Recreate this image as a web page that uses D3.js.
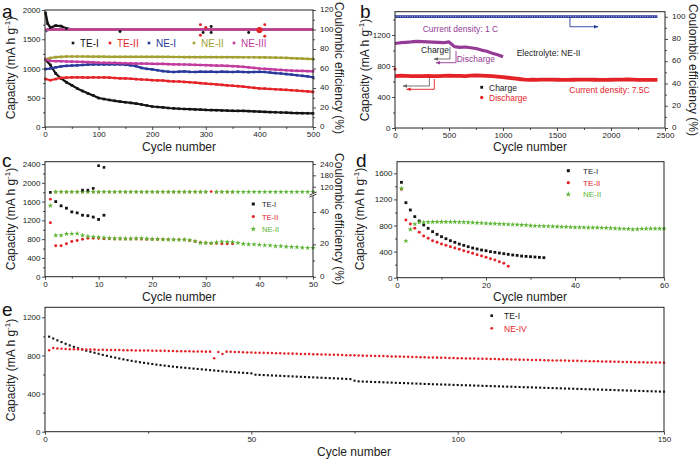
<!DOCTYPE html>
<html><head><meta charset="utf-8">
<script src="https://cdn.jsdelivr.net/npm/d3@7"></script>
<style>body{margin:0;background:#fff}svg{display:block}</style>
</head><body>
<script>
// ---------------- DATA ----------------
// Panel a (cycles sampled)
const aCycles = [1,10,20,30,40,50,60,70,80,90,100,110,120,130,140,150,160,170,180,190,200,210,220,230,240,250,260,270,280,290,300,310,320,330,340,350,360,370,380,390,400,410,420,430,440,450,460,470,480,490,500];
const aTE1 = [1150,1060,915,830,765,714,660,615,575,540,495,478,462,448,435,423,412,400,385,368,350,342,335,325,318,312,308,305,300,297,292,290,287,283,280,277,275,275,272,268,262,258,255,252,248,245,240,238,236,235,234];
const aTE2 = [820,800,820,840,845,848,850,848,845,850,846,848,845,838,832,830,825,818,812,808,800,798,795,785,780,778,770,765,758,750,743,735,728,720,712,705,698,690,680,670,660,655,650,645,640,635,628,622,615,608,600];
const aNE1 = [990,1000,1020,1035,1045,1050,1055,1060,1065,1068,1070,1068,1070,1072,1070,1065,1055,1040,1010,995,985,970,955,945,940,945,950,942,940,945,943,945,940,945,942,940,945,940,938,940,943,940,930,922,915,905,895,885,875,865,850];
const aNE2 = [1160,1180,1195,1200,1205,1205,1205,1205,1203,1203,1202,1202,1200,1200,1200,1200,1200,1200,1200,1200,1200,1198,1198,1198,1197,1197,1196,1196,1195,1195,1195,1195,1195,1194,1194,1193,1193,1192,1192,1192,1190,1190,1188,1186,1184,1180,1176,1172,1168,1164,1160];
const aNE3 = [1150,1130,1125,1125,1120,1118,1115,1112,1110,1105,1100,1098,1095,1095,1092,1090,1088,1085,1085,1082,1080,1078,1078,1075,1072,1070,1068,1065,1062,1060,1057,1055,1050,1048,1045,1040,1035,1028,1020,1010,1000,995,988,980,975,970,965,960,958,955,952];
const aCeCycles = [1,5,10,20,30,40,50,100,150,200,250,300,350,400,450,500];
const aCeTE1 = [117,106,102,104,103.5,101,100,100,100,100,100,100,100,100,100,100];
const aCeTE2 = [99,100,100,100,100,100,100,100,100,100,100,100,100,100,100,100];
const aCeNE1 = [98,99.5,100,100,100,100,100,100,100,100,100,100,100,100,100,100];
const aCeNE2 = [99,100,100,100,100,100,100,100,100,100,100,100,100,100,100,100];
const aCeNE3 = [100,100,100,100,100,100,100,100,100,100,100,100,100,100,100,100];
const aOutCycles = [140,290,290,295,300,310,310,380,400,410,410];
const aOutCE =     [98,94,105,97,102,97,103,97,99.5,93,105];
const aOutSeries = ['TE-I','TE-II','TE-II','TE-I','TE-II','TE-I','TE-I','TE-I','TE-II','TE-II','TE-II'];
const aNames = ['TE-I','TE-II','NE-I','NE-II','NE-III'];

// Panel b
const bCyc1C = [0,50,100,150,200,250,300,350,400,450,500,550,600,650,700,750,800,850,900,950,1000];
const bCap1C = [1090,1100,1105,1110,1118,1115,1112,1108,1105,1100,1110,1050,1040,1045,1035,1025,1005,990,965,945,920];
const bCyc75 = [0,50,100,150,200,250,300,350,400,450,500,550,600,650,700,750,800,850,900,950,1000,1050,1100,1150,1200,1250,1300,1350,1400,1450,1500,1550,1600,1650,1700,1750,1800,1850,1900,1950,2000,2050,2100,2150,2200,2250,2300,2350,2400,2430];
const bCap75 = [670,675,672,670,668,670,672,670,670,672,675,673,672,670,675,678,676,672,668,662,655,648,640,632,625,622,622,625,625,623,622,620,620,622,625,625,623,622,620,620,622,625,625,627,625,622,620,620,620,620];
const bCeCyc = [0,500,1000,1500,2000,2430];
const bCe = [100,100,100,100,100,100];

// Panel c (index = cycle-1)
const cTE1Cap = [null,1600,1510,1460,1380,1360,1310,1300,1270,1220,1310];
const cTE1CE  = [90,null,null,null,null,null,102,102,111,231,222];
const cTE2Cap = [1150,660,660,700,750,770,800,820,820,820,810,810,805,805,805,805,805,805,800,800,800,795,795,790,790,785,770,750,730,720,710,710,700,700,700];
const cTE2CE  = [48,92,92,92,92,92,92,92,92,92,92,92,92,92,92,92,92,92,92,92,92,92,92,92,92,92,92,92,92,92,94,92,92,92,92];
const cNE2Cap = [null,880,880,910,915,920,880,860,850,840,830,820,815,815,810,810,815,815,810,800,800,795,790,790,785,790,780,760,720,720,715,730,745,740,735,720,700,690,690,680,670,665,650,650,640,635,630,620,615,615];
const cNE2CE  = [44,92,92,92,92,92,92,92,92,92,92,92,92,92,92,92,92,92,92,92,92,92,92,92,92,92,92,92,92,92,null,92,92,92,92,92,92,92,92,92,92,92,92,92,92,92,92,92,92,92];

// Panel d (index = cycle-1)
const dTE1 = [1462,1150,1038,936,869,808,757,706,665,629,598,567,542,516,496,475,455,440,424,414,399,389,378,368,358,348,342,332,327,322,317,312,307];
const dTE2 = [1355,884,823,757,695,639,603,567,542,516,496,475,455,435,414,394,373,353,332,312,291,271,245,220,174];
const dNE2 = [1370,562,741,823,849,849,852,855,855,855,855,855,855,852,850,848,845,840,838,833,830,828,825,822,818,815,812,808,805,797,795,792,790,788,785,782,780,778,776,772,770,770,768,768,767,765,762,760,755,752,750,748,741,745,750,752,752,752,752,752];

// Panel e (index = cycle-1)
const eTE1 = [997,978,958,940,922,905,890,876,862,850,839,828,817,806,796,786,777,768,759,751,743,736,729,722,716,710,704,698,693,688,683,678,674,670,666,662,658,654,650,646,642,638,634,630,627,624,621,618,615,612,598,596,594,592,590,588,586,584,582,580,578,576,574,572,570,568,566,564,562,560,558,556,554,552,535,528,526,525,523,521,520,518,516,515,513,511,510,508,506,505,503,501,500,498,497,495,494,493,491,490,488,487,486,484,483,481,480,479,477,476,474,473,472,470,469,467,466,465,463,462,460,459,458,456,455,453,452,451,449,448,446,445,444,442,441,439,438,437,435,434,432,431,430,428,427,425,424,423,421,420];
const eNE4 = [855,878,872,870,868,866,866,865,864,863,862,861,858,859,858,857,856,856,855,854,854,853,852,852,851,850,849,848,848,847,846,845,845,844,843,842,842,841,840,840,770,835,815,840,838,836,835,833,832,830,829,828,827,826,825,823,822,821,820,819,818,816,815,814,813,812,810,809,808,807,806,804,803,802,801,800,798,797,796,795,794,793,791,790,789,788,787,785,784,783,782,781,779,778,777,776,775,773,772,771,770,769,768,767,766,765,764,763,762,761,760,759,758,757,756,755,754,753,752,751,750,749,748,747,746,746,745,744,743,742,741,740,739,738,737,736,735,734,733,732,731,730,729,729,728,727,726,725,725,724];

// ---------------- STYLE ----------------
const FONT = '"Liberation Sans", Arial, Helvetica, sans-serif';
const C = {black:'#141414', red:'#e42328', blue:'#2a3a9c', olive:'#a3a132', mag:'#c23c9e', green:'#5cb532', purple:'#953a95', gray:'#666'};
const aColors = {'TE-I':C.black,'TE-II':C.red,'NE-I':C.blue,'NE-II':C.olive,'NE-III':C.mag};

const svg = d3.select('body').append('svg').attr('width',700).attr('height',463);
svg.append('rect').attr('width',700).attr('height',463).attr('fill','#fff');

function axis(gen, tx, ty, values, size, fmt, pad) {
  const g = svg.append('g').attr('transform', `translate(${tx},${ty})`)
    .call(gen.tickValues(values).tickSize(size).tickSizeOuter(0).tickPadding(pad || 1.5).tickFormat(fmt === undefined ? d3.format('d') : fmt));
  g.select('.domain').remove();
  g.selectAll('text').attr('font-size', 8).attr('font-family', FONT).attr('fill', '#222');
  g.selectAll('line').attr('stroke', '#222').attr('stroke-width', 0.8);
  return g;
}
function frame(x, y) {
  svg.append('rect').attr('x', x.range()[0]).attr('y', y.range()[1])
    .attr('width', x.range()[1] - x.range()[0]).attr('height', y.range()[0] - y.range()[1])
    .attr('fill', 'none').attr('stroke', '#222').attr('stroke-width', 1);
}
function text(x, y, s, o = {}) {
  return svg.append('text').attr('x', x).attr('y', y).text(s)
    .attr('font-family', FONT).attr('font-size', o.size || 9).attr('fill', o.color || '#222')
    .attr('text-anchor', o.anchor || 'start');
}
function capLabel(cx, cy) {
  const t = svg.append('text').attr('transform', `translate(${cx},${cy}) rotate(-90)`)
    .attr('text-anchor', 'middle').attr('font-family', FONT).attr('font-size', 12).attr('fill', '#222');
  t.append('tspan').text('Capacity (mA h g');
  t.append('tspan').attr('font-size', 8).attr('dy', -5).text('-1');
  t.append('tspan').attr('dy', 5).text(')');
}
function ceLabel(cx, cy) {
  svg.append('text').attr('transform', `translate(${cx},${cy}) rotate(90)`)
    .attr('text-anchor', 'middle').attr('font-family', FONT).attr('font-size', 12).attr('fill', '#222')
    .text('Coulombic efficiency (%)');
}
function xLabel(cx, y) { text(cx, y, 'Cycle number', {size: 12, anchor: 'middle'}); }
function letter(x, y, s) { text(x, y, s, {size: 19, color: '#111'}); }

function sym(type, size) { return d3.symbol().type(type).size(size); }
function drawPts(pts, x, y, color, type, size) {
  svg.append('g').selectAll('path').data(pts.filter(p => p[1] != null)).join('path')
    .attr('transform', p => `translate(${x(p[0])},${y(p[1])})`)
    .attr('d', sym(type, size)()).attr('fill', color);
}
function drawBand(pts, x, y, color, w) {
  svg.append('path').datum(pts).attr('fill', 'none').attr('stroke', color).attr('stroke-width', w)
    .attr('stroke-linejoin', 'round')
    .attr('d', d3.line().x(p => x(p[0])).y(p => y(p[1])));
}
const zip = (xs, ys) => xs.map((v, i) => [v, ys[i]]);
const idx = ys => ys.map((v, i) => [i + 1, v]);

// ================= PANEL A =================
{
  const x = d3.scaleLinear().domain([0, 500]).range([45, 313]);
  const y = d3.scaleLinear().domain([0, 2000]).range([127, 10]);
  const y2 = d3.scaleLinear().domain([0, 120]).range([127, 10]);
  const caps = [aTE1, aTE2, aNE1, aNE2, aNE3];
  caps.forEach((arr, k) => {
    const col = aColors[aNames[k]];
    drawBand(zip(aCycles, arr), x, y, col, 2.2);
    drawPts(zip(aCycles, arr), x, y, col, d3.symbolSquare, 7);
  });
  const ces = [aCeTE1, aCeTE2, aCeNE1, aCeNE2, aCeNE3];
  ces.forEach((arr, k) => drawBand(zip(aCeCycles, arr), x, y2, aColors[aNames[k]], 2.4));
  drawPts(zip(aCeCycles.slice(0, 6), aCeTE1.slice(0, 6)), x, y2, C.black, d3.symbolSquare, 7);
  aOutCycles.forEach((c, i) => drawPts([[c, aOutCE[i]]], x, y2, aColors[aOutSeries[i]], d3.symbolCircle, i === 8 ? 30 : 7));
  frame(x, y);
  axis(d3.axisBottom(x), 0, 127, [0, 100, 200, 300, 400, 500], 3);
  axis(d3.axisBottom(x), 0, 127, [50, 150, 250, 350, 450], 2, '');
  axis(d3.axisLeft(y), 45, 0, [0, 500, 1000, 1500, 2000], 3);
  axis(d3.axisLeft(y), 45, 0, [250, 750, 1250, 1750], 2, '');
  axis(d3.axisRight(y2), 313, 0, [0, 20, 40, 60, 80, 100, 120], 3, undefined, 4).selectAll('text').attr('dy', '0.2em');
  axis(d3.axisRight(y2), 313, 0, [10, 30, 50, 70, 90, 110], 2, '');
  // legend
  const lx = [73, 110, 149, 194, 234];
  aNames.forEach((n, k) => {
    svg.append('rect').attr('x', lx[k] - 1.3).attr('y', 41.7).attr('width', 2.6).attr('height', 2.6).attr('fill', aColors[n]);
    text(lx[k] + 7, 46.5, n, {size: 10, color: aColors[n]});
  });
  letter(2, 18, 'a');
  capLabel(15, 68);
  ceLabel(335, 68);
  xLabel(179, 151);
}

// ================= PANEL B =================
{
  const x = d3.scaleLinear().domain([0, 2500]).range([395, 665]);
  const y = d3.scaleLinear().domain([0, 1500]).range([128, 11.7]);
  const y2 = d3.scaleLinear().domain([0, 104.5]).range([128, 11.7]);
  drawBand(zip(bCeCyc, bCe), x, y2, C.blue, 2.8);
  svg.append('path').datum(zip(bCeCyc, bCe)).attr('fill', 'none').attr('stroke', '#c8cbe8')
    .attr('stroke-width', 0.8).attr('stroke-dasharray', '1.2 1.2')
    .attr('d', d3.line().x(p => x(p[0])).y(p => y2(p[1])));
  drawBand(zip(bCyc1C, bCap1C), x, y, C.purple, 3.2);
  drawBand(zip(bCyc75, bCap75), x, y, C.red, 3.8);
  drawPts([[0, 760]], x, y, C.red, d3.symbolCircle, 8);
  frame(x, y);
  axis(d3.axisBottom(x), 0, 128, [0, 500, 1000, 1500, 2000, 2500], 3);
  axis(d3.axisBottom(x), 0, 128, [250, 750, 1250, 1750, 2250], 2, '');
  axis(d3.axisLeft(y), 395, 0, [0, 400, 800, 1200], 3);
  axis(d3.axisLeft(y), 395, 0, [200, 600, 1000, 1400], 2, '');
  axis(d3.axisRight(y2), 665, 0, [0, 20, 40, 60, 80, 100], 3, undefined, 4).selectAll('text').attr('dy', '0.2em');
  axis(d3.axisRight(y2), 665, 0, [10, 30, 50, 70, 90], 2, '');

  // arrow markers
  const defs = svg.append('defs');
  [['g', C.gray], ['p', C.purple], ['r', C.red], ['b', C.blue]].forEach(([id, col]) => {
    defs.append('marker').attr('id', 'ar' + id).attr('viewBox', '0 0 10 10').attr('refX', 9).attr('refY', 5)
      .attr('markerWidth', 6).attr('markerHeight', 5).attr('orient', 'auto')
      .append('path').attr('d', 'M0,1 L10,5 L0,9 z').attr('fill', col);
  });
  const arrow = (pts, col, id, yy) => svg.append('path')
    .attr('d', d3.line().x(p => x(p[0])).y(p => yy(p[1]))(pts))
    .attr('fill', 'none').attr('stroke', col).attr('stroke-width', 0.9).attr('marker-end', `url(#ar${id})`);
  arrow([[509, 1045], [509, 890], [361, 890]], C.gray, 'g', y);
  arrow([[565, 993], [565, 842], [380, 842]], C.purple, 'p', y);
  arrow([[318, 645], [318, 542], [74, 542]], C.gray, 'g', y);
  arrow([[364, 632], [364, 499], [108, 499]], C.red, 'r', y);
  arrow([[1620, 99.5], [1620, 91], [1880, 91]], C.blue, 'b', y2);

  text(x(256), y(1236), 'Current density: 1 C', {size: 8.5, color: C.purple});
  text(x(241), y(962), 'Charge', {size: 8.5, color: '#222'});
  text(x(571), y(846), 'Discharge', {size: 8.5, color: C.purple});
  text(x(1127), y(925), 'Electrolyte: NE-II', {size: 8.5, color: '#222'});
  text(x(1614), y(452), 'Current density: 7.5C', {size: 8.5, color: C.red});
  // legend
  svg.append('rect').attr('x', 480.3).attr('y', 85.9).attr('width', 2.8).attr('height', 2.8).attr('fill', C.black);
  text(489, 90.5, 'Charge', {size: 8.5, color: '#222'});
  svg.append('circle').attr('cx', 481.7).attr('cy', 97.5).attr('r', 1.7).attr('fill', C.red);
  text(489, 100.5, 'Discharge', {size: 8.5, color: C.red});
  letter(360, 18, 'b');
  capLabel(369, 70);
  ceLabel(689, 70);
  xLabel(530, 151);
}

// ================= PANEL C =================
{
  const x = d3.scaleLinear().domain([0, 50]).range([45, 313]);
  const y = d3.scaleLinear().domain([0, 2450]).range([276.7, 161.7]);
  const yLow = d3.scaleLinear().domain([0, 50]).range([276.7, 195.9]);
  const yUp = d3.scaleLinear().domain([85, 240]).range([193.3, 164]);
  const yCE = v => (v <= 60 ? yLow(v) : yUp(v));
  const star = d3.symbolStar;
  drawPts(idx(cTE2CE), x, yCE, C.red, d3.symbolCircle, 6);
  drawPts(idx(cNE2CE), x, yCE, C.green, star, 9);
  drawPts(idx(cTE1CE), x, yCE, C.black, d3.symbolSquare, 7);
  drawPts(idx(cTE2Cap), x, y, C.red, d3.symbolCircle, 7);
  drawPts(idx(cNE2Cap), x, y, C.green, star, 9);
  drawPts(idx(cTE1Cap), x, y, C.black, d3.symbolSquare, 8);
  frame(x, y);
  axis(d3.axisBottom(x), 0, 276.7, [0, 10, 20, 30, 40, 50], 3);
  axis(d3.axisBottom(x), 0, 276.7, [5, 15, 25, 35, 45], 2, '');
  axis(d3.axisLeft(y), 45, 0, [0, 400, 800, 1200, 1600, 2000, 2400], 3);
  axis(d3.axisLeft(y), 45, 0, [200, 600, 1000, 1400, 1800, 2200], 2, '');
  axis(d3.axisRight(yLow), 313, 0, [0, 20, 40], 3, undefined, 4).selectAll('text').attr('dy', '0.2em');
  axis(d3.axisRight(yLow), 313, 0, [10, 30], 2, '');
  axis(d3.axisRight(yUp), 313, 0, [120, 180, 240], 3, undefined, 4);
  // axis break
  svg.append('rect').attr('x', 311).attr('y', yUp(85) - 0.3).attr('width', 4).attr('height', yLow(50) - yUp(85) + 0.6).attr('fill', '#fff');
  [yUp(85) + 0.3, yLow(50) - 0.3].forEach(yy => svg.append('line').attr('x1', 309.5).attr('x2', 316.5)
    .attr('y1', yy + 1.5).attr('y2', yy - 1.5).attr('stroke', '#222').attr('stroke-width', 0.9));
  // legend
  svg.append('rect').attr('x', 251.8).attr('y', 202.5).attr('width', 3).attr('height', 3).attr('fill', C.black);
  text(262, 207, 'TE-I', {size: 7.5, color: '#222'});
  svg.append('circle').attr('cx', 253.3).attr('cy', 216.5).attr('r', 1.6).attr('fill', C.red);
  text(262, 219.5, 'TE-II', {size: 7.5, color: C.red});
  svg.append('path').attr('transform', 'translate(253.3,229)').attr('d', sym(star, 10)()).attr('fill', C.green);
  text(262, 232, 'NE-II', {size: 7.5, color: C.green});
  letter(2, 167, 'c');
  capLabel(15, 219);
  ceLabel(335, 219);
  xLabel(179, 301);
}

// ================= PANEL D =================
{
  const x = d3.scaleLinear().domain([0, 60]).range([397, 664]);
  const y = d3.scaleLinear().domain([0, 1778]).range([277.7, 161.7]);
  drawPts(idx(dTE1), x, y, C.black, d3.symbolSquare, 8);
  drawPts(idx(dTE2), x, y, C.red, d3.symbolCircle, 7);
  drawPts(idx(dNE2), x, y, C.green, d3.symbolStar, 9);
  frame(x, y);
  axis(d3.axisBottom(x), 0, 277.7, [0, 20, 40, 60], 3);
  axis(d3.axisBottom(x), 0, 277.7, [10, 30, 50], 2, '');
  axis(d3.axisLeft(y), 397, 0, [0, 400, 800, 1200, 1600], 3);
  axis(d3.axisLeft(y), 397, 0, [200, 600, 1000, 1400], 2, '');
  svg.append('rect').attr('x', 566.8).attr('y', 169.2).attr('width', 3).attr('height', 3).attr('fill', C.black);
  text(583, 173.5, 'TE-I', {size: 8, color: '#222'});
  svg.append('circle').attr('cx', 568.3).attr('cy', 182.7).attr('r', 1.6).attr('fill', C.red);
  text(583, 185.5, 'TE-II', {size: 8, color: C.red});
  svg.append('path').attr('transform', 'translate(568.3,194.3)').attr('d', sym(d3.symbolStar, 10)()).attr('fill', C.green);
  text(583, 197, 'NE-II', {size: 8, color: C.green});
  letter(356, 167, 'd');
  capLabel(364, 219);
  xLabel(530, 301);
}

// ================= PANEL E =================
{
  const x = d3.scaleLinear().domain([0, 150]).range([45, 664]);
  const y = d3.scaleLinear().domain([0, 1305]).range([431.7, 307.3]);
  drawPts(idx(eTE1), x, y, C.black, d3.symbolSquare, 4.5);
  drawPts(idx(eNE4), x, y, C.red, d3.symbolCircle, 5);
  frame(x, y);
  axis(d3.axisBottom(x), 0, 431.7, [0, 50, 100, 150], 3);
  axis(d3.axisBottom(x), 0, 431.7, [25, 75, 125], 2, '');
  axis(d3.axisLeft(y), 45, 0, [0, 400, 800, 1200], 3);
  axis(d3.axisLeft(y), 45, 0, [200, 600, 1000], 2, '');
  svg.append('rect').attr('x', 490.4).attr('y', 314.4).attr('width', 2.6).attr('height', 2.6).attr('fill', C.black);
  text(504, 319, 'TE-I', {size: 8.5, color: '#222'});
  svg.append('circle').attr('cx', 491.7).attr('cy', 328.3).attr('r', 1.4).attr('fill', C.red);
  text(504, 331.5, 'NE-IV', {size: 8.5, color: C.red});
  letter(2, 316, 'e');
  capLabel(15, 370);
  xLabel(354, 456);
}
</script>
</body></html>
